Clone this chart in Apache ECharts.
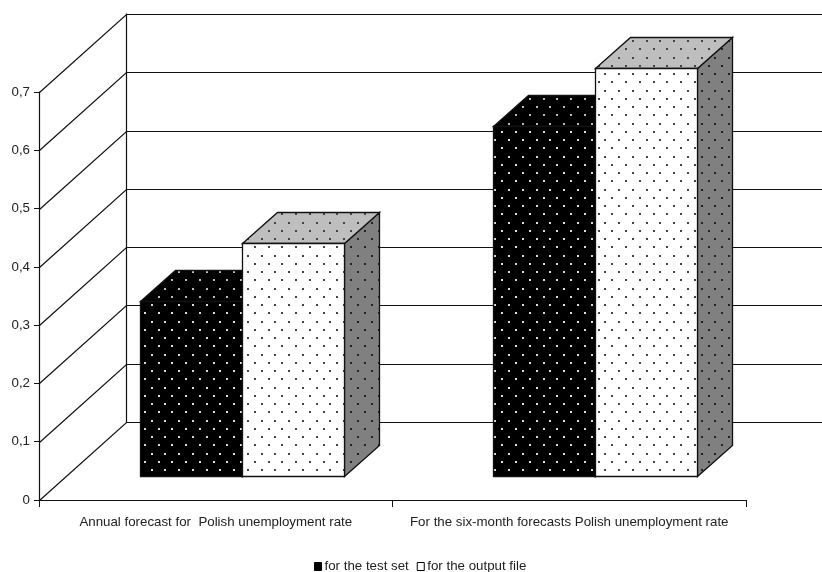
<!DOCTYPE html>
<html>
<head>
<meta charset="utf-8">
<title>Polish unemployment rate forecasts</title>
<script src="https://cdn.jsdelivr.net/npm/echarts@6/dist/echarts.min.js"></script>
<style>
  html, body { margin: 0; padding: 0; background: #fff; }
  #chart { width: 822px; height: 572px; }
</style>
</head>
<body>
<div id="chart"></div>
<script>
const categories = ['Annual forecast for  Polish unemployment rate', 'For the six-month forecasts Polish unemployment rate'];
const testSet = [0.3, 0.6];
const outputFile = [0.4, 0.7];
const tickValues = [0, 0.1, 0.2, 0.3, 0.4, 0.5, 0.6, 0.7];

// the 3D look, in pixels: back wall offset, bar offset from the front plane, bar depth
const depthX = 86.5;
const depthY = -79;
const gapX = 26;
const gapY = -24;
const barX = 35;
const barY = -31;
const barShare = 0.2885;
const lineColor = '#111';
const fontName = '"Liberation Sans", Arial, sans-serif';

// dotted fill like the Excel pattern, staggered rows
function dots(bg, dot) {
  const c = document.createElement('canvas');
  c.width = 55;
  c.height = 33;
  const ctx = c.getContext('2d');
  ctx.fillStyle = bg;
  ctx.fillRect(0, 0, 55, 33);
  ctx.fillStyle = dot;
  const rows = [7, 15, 24, 32];
  const cols = [13, 27, 41, 54];
  rows.forEach((y, r) => {
    cols.forEach(x => {
      const px = x + (r % 2) * 7;
      // draw the wrapped copies too so dots on the tile edge stay whole
      [0, -55].forEach(ox => {
        [0, -33].forEach(oy => {
          ctx.fillRect(px + ox, y + oy, 2, 2);
        });
      });
    });
  });
  return { image: c, repeat: 'repeat' };
}

const snap = v => Math.round(v) + 0.5;

function face(points, fill) {
  return {
    type: 'polygon',
    shape: { points: points },
    style: { fill: fill, stroke: lineColor, lineWidth: 1.3 }
  };
}

function barRenderer(slot, fills) {
  return function (params, api) {
    const i = api.value(0);
    const top = api.coord([i, api.value(1)]);
    const bottom = api.coord([i, 0]);
    const w = api.size([1, 0])[0] * barShare;
    const x0 = snap(top[0] + gapX - w + slot * w);
    const x1 = snap(top[0] + gapX + slot * w);
    const y0 = snap(top[1] + gapY);
    const y1 = snap(bottom[1] + gapY);
    return {
      type: 'group',
      children: [
        face([[x1, y0], [x1 + barX, y0 + barY], [x1 + barX, y1 + barY], [x1, y1]], fills.side),
        face([[x0, y0], [x0 + barX, y0 + barY], [x1 + barX, y0 + barY], [x1, y0]], fills.top),
        face([[x0, y0], [x1, y0], [x1, y1], [x0, y1]], fills.front)
      ]
    };
  };
}

function wallRenderer(params, api) {
  const v = api.value(1);
  const band = api.size([1, 0])[0];
  const p = api.coord([0, v]);
  const x = snap(p[0] - band / 2);
  const y = snap(p[1]);
  const bx = snap(x + depthX);
  const by = snap(y + depthY);
  const children = [{
    type: 'polyline',
    shape: { points: [[x, y], [bx, by], [api.getWidth(), by]] },
    style: { fill: 'none', stroke: lineColor, lineWidth: 1.2 }
  }];
  if (params.dataIndex === 0) {
    const t = api.coord([0, tickValues[tickValues.length - 1]]);
    children.push({
      type: 'line',
      shape: { x1: bx, y1: by, x2: bx, y2: snap(t[1] + depthY) },
      style: { stroke: lineColor, lineWidth: 1.2 }
    });
  }
  return { type: 'group', children: children };
}

const chart = echarts.init(document.getElementById('chart'), null, { renderer: 'canvas' });

chart.setOption({
  animation: false,
  backgroundColor: '#fff',
  textStyle: { fontFamily: fontName },
  grid: { left: 39, top: 92, width: 707, height: 408 },
  legend: {
    left: 314,
    top: 560,
    itemWidth: 7,
    itemHeight: 8,
    itemGap: 8,
    padding: 0,
    selectedMode: false,
    textStyle: { fontFamily: fontName, fontSize: 13.3, color: '#222', padding: [0, 0, 0, -2] },
    data: [
      { name: 'for the test set', icon: 'rect', itemStyle: { color: '#000', borderColor: '#000', borderWidth: 1 } },
      { name: 'for the output file', icon: 'rect', itemStyle: { color: '#fff', borderColor: '#000', borderWidth: 1 } }
    ]
  },
  xAxis: {
    type: 'category',
    data: categories,
    axisLine: { lineStyle: { color: lineColor, width: 1.2 } },
    axisTick: { show: true, length: 7, alignWithLabel: false, lineStyle: { color: lineColor } },
    axisLabel: { color: '#222', fontSize: 13.3, fontFamily: fontName, margin: 16, interval: 0 },
    splitLine: { show: false }
  },
  yAxis: {
    type: 'value',
    min: 0,
    max: 0.7,
    interval: 0.1,
    axisLine: { show: true, lineStyle: { color: lineColor, width: 1.2 } },
    axisTick: { show: true, length: 5, lineStyle: { color: lineColor } },
    axisLabel: {
      color: '#222',
      fontSize: 13.3,
      fontFamily: fontName,
      margin: 9,
      formatter: v => String(Math.round(v * 10) / 10).replace('.', ',')
    },
    splitLine: { show: false }
  },
  series: [
    {
      name: 'walls',
      type: 'custom',
      silent: true,
      z: 1,
      renderItem: wallRenderer,
      encode: { x: 0, y: 1 },
      data: tickValues.map(v => [0, v])
    },
    {
      name: 'for the test set',
      type: 'custom',
      z: 2,
      itemStyle: { color: '#000' },
      renderItem: barRenderer(0, {
        front: dots('#000', '#ddd'),
        top: dots('#000', '#bbb'),
        side: dots('#808080', '#222')
      }),
      encode: { x: 0, y: 1 },
      data: testSet.map((v, i) => [i, v])
    },
    {
      name: 'for the output file',
      type: 'custom',
      z: 3,
      itemStyle: { color: '#fff' },
      renderItem: barRenderer(1, {
        front: dots('#fff', '#444'),
        top: dots('#bebebe', '#444'),
        side: dots('#808080', '#222')
      }),
      encode: { x: 0, y: 1 },
      data: outputFile.map((v, i) => [i, v])
    }
  ]
});
</script>
</body>
</html>
